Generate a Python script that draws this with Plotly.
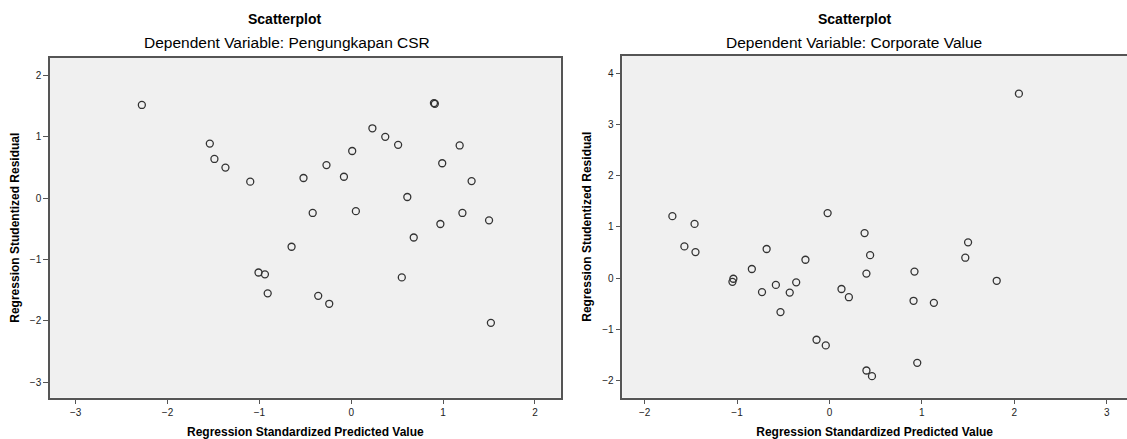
import plotly.graph_objects as go

# Left chart: Dependent Variable: Pengungkapan CSR
csr_pred = [-2.28, -1.54, -1.49, -1.37, -1.10, -0.52, -0.42, -0.27, -0.08, 0.01,
            0.05, 0.23, 0.37, 0.51, 0.61, 0.90, 0.91, 0.99, 1.18, 1.21,
            1.31, 1.50, 0.97, 0.68, -0.65, -1.01, -0.94, -0.91, -0.36, -0.24,
            0.55, 1.52]
csr_resid = [1.52, 0.89, 0.64, 0.50, 0.27, 0.33, -0.24, 0.54, 0.35, 0.77,
             -0.21, 1.14, 1.00, 0.87, 0.02, 1.55, 1.54, 0.57, 0.86, -0.24,
             0.28, -0.36, -0.42, -0.64, -0.79, -1.21, -1.24, -1.55, -1.59, -1.72,
             -1.29, -2.03]

# Right chart: Dependent Variable: Corporate Value
cv_pred = [-1.70, -1.46, -1.57, -1.45, -0.68, -0.02, 0.38, 0.44, 0.40, -0.26,
           -0.84, -1.04, -1.05, -0.58, -0.36, -0.73, -0.43, -0.53, 0.13, 0.21,
           0.92, 0.91, 1.13, 1.50, 1.47, 1.81, -0.14, -0.04, 0.40, 0.46,
           0.95, 2.05]
cv_resid = [1.21, 1.06, 0.62, 0.51, 0.57, 1.27, 0.88, 0.45, 0.09, 0.36,
            0.18, -0.01, -0.07, -0.13, -0.08, -0.27, -0.28, -0.66, -0.21, -0.37,
            0.13, -0.44, -0.48, 0.70, 0.40, -0.05, -1.20, -1.31, -1.80, -1.91,
            -1.65, 3.60]

x_ticks_left = [-3, -2, -1, 0, 1, 2]
y_ticks_left = [-3, -2, -1, 0, 1, 2]
x_ticks_right = [-2, -1, 0, 1, 2, 3]
y_ticks_right = [-2, -1, 0, 1, 2, 3, 4]

W, H = 1127, 439
FONT = "Arial, Liberation Sans, sans-serif"

marker = dict(symbol="circle-open", size=7, color="#333333", line=dict(width=1.3, color="#333333"))

fig = go.Figure()
fig.add_trace(go.Scatter(x=csr_pred, y=csr_resid, mode="markers", marker=marker,
                         xaxis="x", yaxis="y", showlegend=False))
fig.add_trace(go.Scatter(x=cv_pred, y=cv_resid, mode="markers", marker=marker,
                         xaxis="x2", yaxis="y2", showlegend=False))

def px_x(p):
    return p / W

def px_y(p):
    return 1 - p / H

axis_common = dict(
    showgrid=False, zeroline=False, showline=True, linecolor="#555555", linewidth=1.5,
    ticks="outside", ticklen=5, tickcolor="#555555", tickwidth=1,
    tickfont=dict(family=FONT, size=10, color="#222222"),
)

title_font = dict(family=FONT, size=12, color="black")

fig.update_layout(
    width=W, height=H,
    margin=dict(l=0, r=0, t=0, b=0),
    paper_bgcolor="white",
    plot_bgcolor="#F0F0F0",
    xaxis=dict(domain=[px_x(50), px_x(560.7)], range=[-3.28, 2.28],
               tickvals=x_ticks_left, mirror=True, anchor="y",
               title=dict(text="<b>Regression Standardized Predicted Value</b>",
                          font=title_font, standoff=12),
               **axis_common),
    yaxis=dict(domain=[px_y(397.7), px_y(57.7)], range=[-3.25, 2.29],
               tickvals=y_ticks_left, mirror=True, anchor="x",
               title=dict(text="<b>Regression Studentized Residual</b>",
                          font=title_font, standoff=8),
               **axis_common),
    xaxis2=dict(domain=[px_x(622.3), 1.0], range=[-2.242, 3.22],
                tickvals=x_ticks_right, mirror=True, anchor="y2",
                title=dict(text="<b>Regression Standardized Predicted Value</b>",
                           font=title_font, standoff=12),
                **axis_common),
    yaxis2=dict(domain=[px_y(397.7), px_y(55.7)], range=[-2.33, 4.34],
                tickvals=y_ticks_right, mirror=False, anchor="x2",
                title=dict(text="<b>Regression Studentized Residual</b>",
                           font=title_font, standoff=8),
                **axis_common),
)

titles = [
    (284, 19, "<b>Scatterplot</b>", 14),
    (287, 42, "Dependent Variable: Pengungkapan CSR", 15.5),
    (854, 19, "<b>Scatterplot</b>", 14),
    (854, 42, "Dependent Variable: Corporate Value", 15.5),
]
for x, y, t, s in titles:
    fig.add_annotation(x=px_x(x), y=px_y(y), xref="paper", yref="paper",
                       text=t, showarrow=False, xanchor="center", yanchor="middle",
                       font=dict(family=FONT, size=s, color="black"))

fig.write_html("out.html", config={"displayModeBar": False},
               post_script="document.body.style.margin='0';")
